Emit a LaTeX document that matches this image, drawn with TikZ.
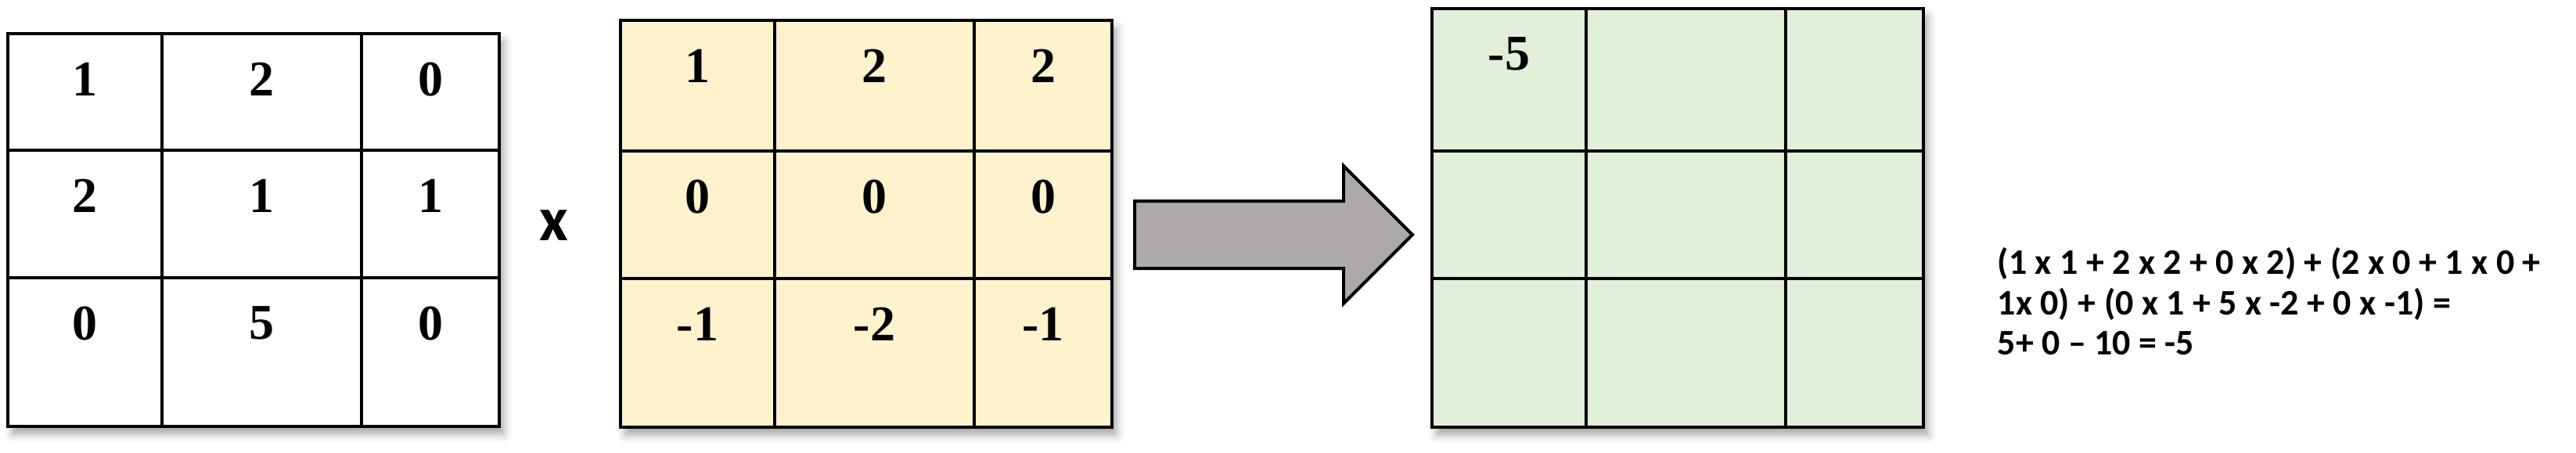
\documentclass[tikz,border=0pt]{standalone}
\usepackage{fontspec}
\setmainfont{Liberation Serif}
\newfontfamily\calfont{Carlito}
\usetikzlibrary{positioning, shadows.blur}
\definecolor{kernelfill}{HTML}{FFF2CC}
\definecolor{outfill}{HTML}{E2EFDA}
\definecolor{arrowgrey}{HTML}{AEAAAA}

\begin{document}
\begin{tikzpicture}[
    frame/.style={draw, line width=1.1pt, anchor=north west, minimum width=157pt, inner sep=0pt, outer sep=0pt,
        blur shadow={shadow xshift=1.5pt, shadow yshift=-2.5pt, shadow blur radius=2.5pt, shadow opacity=35}},
    cell/.style={draw, line width=0.85pt, inner sep=0pt, outer sep=0pt},
    colA/.style={minimum width=49.25pt},
    colB/.style={minimum width=63.75pt},
    colC/.style={minimum width=44pt},
    midrow/.style={minimum height=40.75pt},
    lowrow/.style={minimum height=47.5pt},
    num/.style={inner sep=0pt, font=\bfseries\fontsize{16}{18}\selectfont},
    times/.style={inner sep=0pt, font=\calfont\bfseries\fontsize{20}{24}\selectfont},
    eqtext/.style={inner sep=0pt, align=left, font=\calfont\bfseries\fontsize{11.5}{12.8}\selectfont}]
    \useasboundingbox (0,0) rectangle (823pt,-144.75pt);

    % input
    \node[frame, fill=white, minimum height=125.5pt] (m1) at (2.5pt,-10.75pt) {};
    \node[cell, colA, minimum height=37.25pt, below right=0pt of m1.north west] (a11) {};
    \node[cell, colB, minimum height=37.25pt, right=0pt of a11] (a12) {};
    \node[cell, colC, minimum height=37.25pt, right=0pt of a12] (a13) {};
    \node[cell, colA, midrow, below=0pt of a11] (a21) {};
    \node[cell, colB, midrow, below=0pt of a12] (a22) {};
    \node[cell, colC, midrow, below=0pt of a13] (a23) {};
    \node[cell, colA, lowrow, below=0pt of a21] (a31) {};
    \node[cell, colB, lowrow, below=0pt of a22] (a32) {};
    \node[cell, colC, lowrow, below=0pt of a23] (a33) {};
    \node[num, below=9pt of a11.north] (na11) {1};
    \node[num, below=9pt of a12.north] (na12) {2};
    \node[num, below=9pt of a13.north] (na13) {0};
    \node[num, below=9pt of a21.north] (na21) {2};
    \node[num, below=9pt of a22.north] (na22) {1};
    \node[num, below=9pt of a23.north] (na23) {1};
    \node[num, below=9pt of a31.north] (na31) {0};
    \node[num, below=9pt of a32.north] (na32) {5};
    \node[num, below=9pt of a33.north] (na33) {0};

    \node[times] (mul) at (177pt,-71.9pt) {x};

    % kernel
    \node[frame, fill=kernelfill, minimum height=130pt] (m2) at (198.25pt,-6.5pt) {};
    \node[cell, colA, minimum height=41.75pt, below right=0pt of m2.north west] (k11) {};
    \node[cell, colB, minimum height=41.75pt, right=0pt of k11] (k12) {};
    \node[cell, colC, minimum height=41.75pt, right=0pt of k12] (k13) {};
    \node[cell, colA, midrow, below=0pt of k11] (k21) {};
    \node[cell, colB, midrow, below=0pt of k12] (k22) {};
    \node[cell, colC, midrow, below=0pt of k13] (k23) {};
    \node[cell, colA, lowrow, below=0pt of k21] (k31) {};
    \node[cell, colB, lowrow, below=0pt of k22] (k32) {};
    \node[cell, colC, lowrow, below=0pt of k23] (k33) {};
    \node[num, below=9pt of k11.north] (nk11) {1};
    \node[num, below=9pt of k12.north] (nk12) {2};
    \node[num, below=9pt of k13.north] (nk13) {2};
    \node[num, below=9pt of k21.north] (nk21) {0};
    \node[num, below=9pt of k22.north] (nk22) {0};
    \node[num, below=9pt of k23.north] (nk23) {0};
    \node[num, below=9pt of k31.north] (nk31) {-1};
    \node[num, below=9pt of k32.north] (nk32) {-2};
    \node[num, below=9pt of k33.north] (nk33) {-1};

    % block arrow
    \draw[line width=1pt, fill=arrowgrey] (362.5pt,-64.25pt) -- (429.25pt,-64.25pt) -- (429.25pt,-53pt)
        -- (451.25pt,-75pt) -- (429.25pt,-97pt) -- (429.25pt,-85.75pt) -- (362.5pt,-85.75pt) -- cycle;

    % output
    \node[frame, fill=outfill, minimum height=133.75pt] (m3) at (457.5pt,-2.75pt) {};
    \node[cell, colA, minimum height=45.5pt, below right=0pt of m3.north west] (r11) {};
    \node[cell, colB, minimum height=45.5pt, right=0pt of r11] (r12) {};
    \node[cell, colC, minimum height=45.5pt, right=0pt of r12] (r13) {};
    \node[cell, colA, midrow, below=0pt of r11] (r21) {};
    \node[cell, colB, midrow, below=0pt of r12] (r22) {};
    \node[cell, colC, midrow, below=0pt of r13] (r23) {};
    \node[cell, colA, lowrow, below=0pt of r21] (r31) {};
    \node[cell, colB, lowrow, below=0pt of r22] (r32) {};
    \node[cell, colC, lowrow, below=0pt of r23] (r33) {};
    \node[num, below=9pt of r11.north] (nr11) {-5};

    \node[eqtext, anchor=north west] (eq) at (638pt,-79pt) {(1 x 1 + 2 x 2 + 0 x 2) + (2 x 0 + 1 x 0 +\\1x 0) + (0 x 1 + 5 x -2 + 0 x -1) =\\5+ 0 – 10 = -5};
\end{tikzpicture}
\end{document}
